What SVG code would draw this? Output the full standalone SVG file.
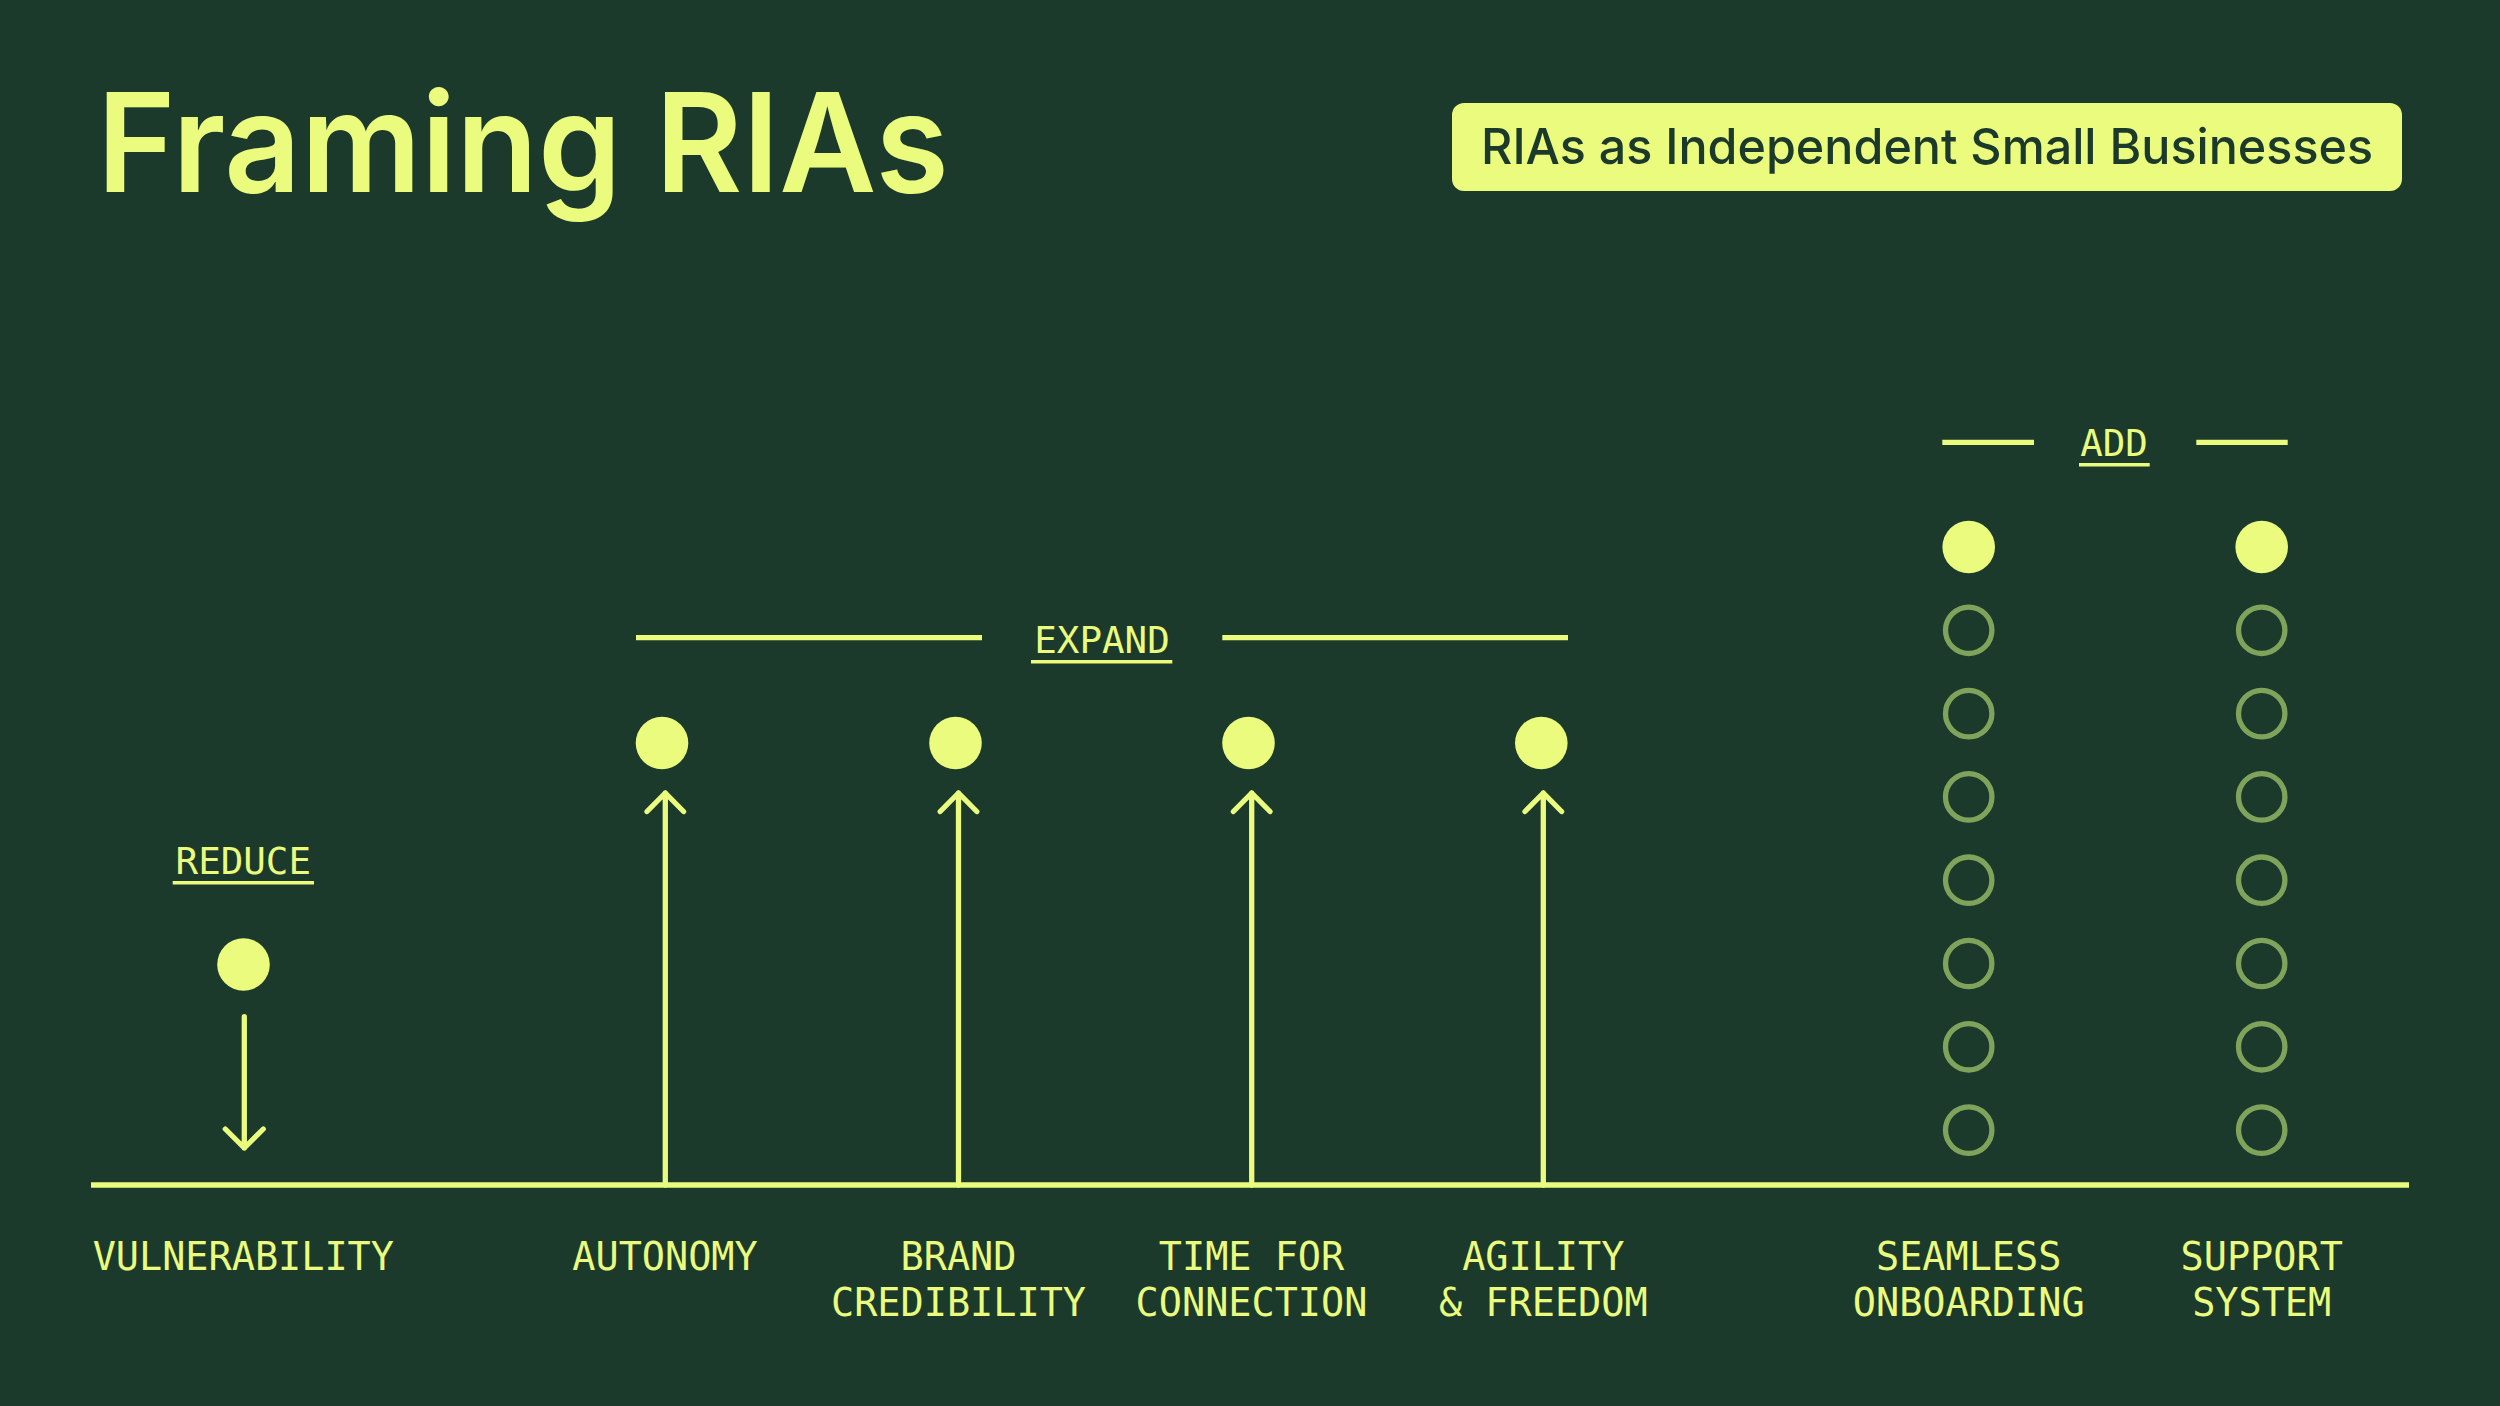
<svg xmlns="http://www.w3.org/2000/svg" width="2500" height="1406" viewBox="0 0 2500 1406">
<style>
.bg{fill:#1B3A2B}
.title{font-family:Inter,"Noto Sans","Liberation Sans",sans-serif;font-weight:600;font-size:138px;fill:#EAFB7E}
.badge{fill:#EAFB7E}
.badgetext{font-family:Inter,"Noto Sans","Liberation Sans",sans-serif;font-weight:500;font-size:50px;fill:#1B3A2B}
.lbl{font-family:"DejaVu Sans Mono","Liberation Mono",monospace;font-size:38.5px;fill:#EAFB7E;text-anchor:middle}
.hdr{font-family:"DejaVu Sans Mono","Liberation Mono",monospace;font-size:37.5px;fill:#EAFB7E;text-anchor:middle}
.line{stroke:#EAFB7E;stroke-width:5.3;fill:none}
.ul{stroke:#EAFB7E;stroke-width:3.5;fill:none}
.arrow{stroke:#EAFB7E;stroke-width:5.3;fill:none;stroke-linecap:round;stroke-linejoin:round}
.dot{fill:#EAFB7E}
.ring{fill:none;stroke:#80A35C;stroke-width:5.3}
</style>
<rect class="bg" x="0" y="0" width="2500" height="1406"/>
<g id="title"><text class="title" x="97" y="192" textLength="852" lengthAdjust="spacingAndGlyphs">Framing RIAs</text></g>
<g id="badge">
<rect class="badge" x="1452" y="103" width="950" height="88" rx="12"/>
<text class="badgetext" x="1481" y="164" textLength="892" lengthAdjust="spacingAndGlyphs">RIAs as Independent Small Businesses</text>
</g>
<g id="connectors">
<line class="line" x1="91" y1="1185" x2="2409" y2="1185"/>
<path class="arrow" d="M244.3 1016.7 V1148 M225.3 1129 L244.3 1148 L263.3 1129"/>
<path class="arrow" d="M665.3 1185 V793 M647 811.5 L665.3 793 L683.6 811.5"/>
<path class="arrow" d="M958.5 1185 V793 M940.2 811.5 L958.5 793 L976.8 811.5"/>
<path class="arrow" d="M1251.7 1185 V793 M1233.4 811.5 L1251.7 793 L1270 811.5"/>
<path class="arrow" d="M1543.3 1185 V793 M1525 811.5 L1543.3 793 L1561.6 811.5"/>
</g>
<g id="group-reduce">
<text class="hdr" x="243.3" y="874">REDUCE</text>
<line class="ul" x1="172.7" y1="882.7" x2="314" y2="882.7"/>
</g>
<g id="group-expand">
<line class="line" x1="636" y1="637.7" x2="982" y2="637.7"/>
<line class="line" x1="1222.3" y1="637.7" x2="1568" y2="637.7"/>
<text class="hdr" x="1102" y="652.7">EXPAND</text>
<line class="ul" x1="1031" y1="661.7" x2="1172.3" y2="661.7"/>
</g>
<g id="group-add">
<line class="line" x1="1942.3" y1="442.3" x2="2034" y2="442.3"/>
<line class="line" x1="2196.3" y1="442.3" x2="2287.7" y2="442.3"/>
<text class="hdr" x="2114" y="456">ADD</text>
<line class="ul" x1="2079" y1="464.7" x2="2149.7" y2="464.7"/>
</g>
<g id="node-vulnerability">
<circle class="dot" cx="243.5" cy="964.5" r="26.3"/>
<text class="lbl" x="243.3" y="1270">VULNERABILITY</text>
</g>
<g id="node-autonomy">
<circle class="dot" cx="662" cy="743" r="26.3"/>
<text class="lbl" x="665" y="1270">AUTONOMY</text>
</g>
<g id="node-brand">
<circle class="dot" cx="955.5" cy="743" r="26.3"/>
<text class="lbl" x="958.5" y="1270">BRAND</text>
<text class="lbl" x="958.5" y="1315.7">CREDIBILITY</text>
</g>
<g id="node-time">
<circle class="dot" cx="1248.5" cy="743" r="26.3"/>
<text class="lbl" x="1251.5" y="1270">TIME FOR</text>
<text class="lbl" x="1251.5" y="1315.7">CONNECTION</text>
</g>
<g id="node-agility">
<circle class="dot" cx="1541.3" cy="743" r="26.3"/>
<text class="lbl" x="1543.3" y="1270">AGILITY</text>
<text class="lbl" x="1543.3" y="1315.7">&amp; FREEDOM</text>
</g>
<g id="node-onboarding">
<circle class="dot" cx="1968.7" cy="547" r="26.3"/>
<circle class="ring" cx="1968.7" cy="630.3" r="23.2"/>
<circle class="ring" cx="1968.7" cy="713.6" r="23.2"/>
<circle class="ring" cx="1968.7" cy="796.9" r="23.2"/>
<circle class="ring" cx="1968.7" cy="880.2" r="23.2"/>
<circle class="ring" cx="1968.7" cy="963.5" r="23.2"/>
<circle class="ring" cx="1968.7" cy="1046.8" r="23.2"/>
<circle class="ring" cx="1968.7" cy="1130.1" r="23.2"/>
<text class="lbl" x="1968.7" y="1270">SEAMLESS</text>
<text class="lbl" x="1968.7" y="1315.7">ONBOARDING</text>
</g>
<g id="node-support">
<circle class="dot" cx="2261.7" cy="547" r="26.3"/>
<circle class="ring" cx="2261.7" cy="630.3" r="23.2"/>
<circle class="ring" cx="2261.7" cy="713.6" r="23.2"/>
<circle class="ring" cx="2261.7" cy="796.9" r="23.2"/>
<circle class="ring" cx="2261.7" cy="880.2" r="23.2"/>
<circle class="ring" cx="2261.7" cy="963.5" r="23.2"/>
<circle class="ring" cx="2261.7" cy="1046.8" r="23.2"/>
<circle class="ring" cx="2261.7" cy="1130.1" r="23.2"/>
<text class="lbl" x="2261.7" y="1270">SUPPORT</text>
<text class="lbl" x="2261.7" y="1315.7">SYSTEM</text>
</g>
</svg>
